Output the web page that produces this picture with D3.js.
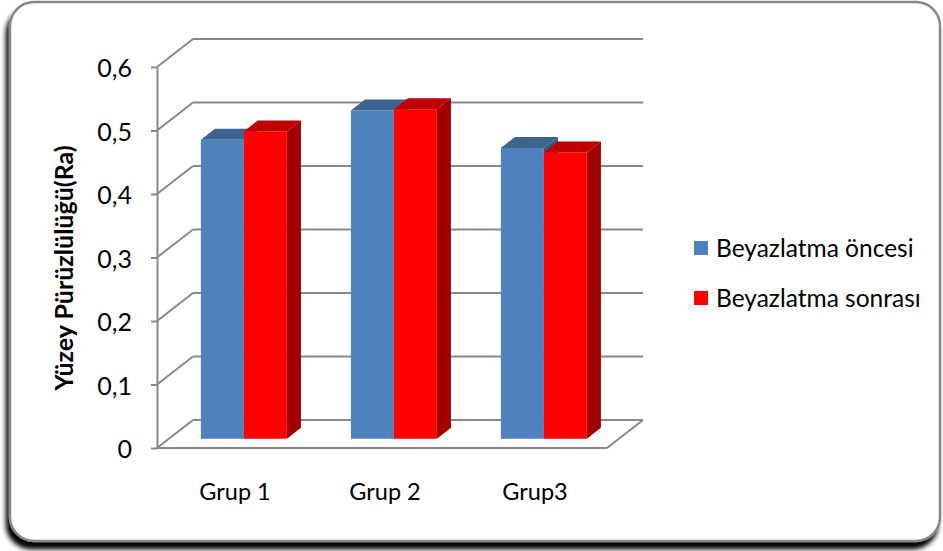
<!DOCTYPE html>
<html>
<head>
<meta charset="utf-8">
<script src="https://cdn.jsdelivr.net/npm/d3@7"></script>
<style>
  html, body { margin: 0; padding: 0; background: #ffffff; }
  svg { display: block; }
  text { font-family: Lato, "Open Sans", sans-serif; fill: #000; }
</style>
</head>
<body>
<svg id="chart" width="943" height="551"></svg>
<script>
// Surface roughness (Ra) before and after bleaching, per group
const categories = ["Grup 1", "Grup 2", "Grup3"];
const seriesNames = ["Beyazlatma öncesi", "Beyazlatma sonrası"];
const valuesBefore = [0.471, 0.517, 0.458];
const valuesAfter = [0.484, 0.519, 0.451];
const yTickValues = [0, 0.1, 0.2, 0.3, 0.4, 0.5, 0.6];
const yTitle = "Yüzey Pürüzlülüğü(Ra)";

const series = [
  { name: seriesNames[0], values: valuesBefore, front: "#4f81bd", top: "#3c6491", side: "#36597f" },
  { name: seriesNames[1], values: valuesAfter, front: "#ff0000", top: "#c00000", side: "#a00000" }
];

const svg = d3.select("#chart");

// Rounded chart frame with a drop shadow
const defs = svg.append("defs");
const shadow = defs.append("filter").attr("id", "frameShadow")
  .attr("x", "-5%").attr("y", "-5%").attr("width", "110%").attr("height", "115%");
shadow.append("feDropShadow")
  .attr("dx", -3).attr("dy", 7).attr("stdDeviation", 2.5)
  .attr("flood-color", "#000").attr("flood-opacity", 1);

svg.append("rect")
  .attr("x", 10).attr("y", 2).attr("width", 930).attr("height", 539)
  .attr("rx", 24).attr("ry", 24)
  .attr("fill", "#fff").attr("stroke", "#878787").attr("stroke-width", 2.5)
  .attr("filter", "url(#frameShadow)");

// Front-plane scales and the oblique depth vector of the 3D box
const x = d3.scaleBand().domain(categories).range([157, 607]).paddingInner(0).paddingOuter(0);
const y = d3.scaleLinear().domain([0, 0.6]).range([448, 67]);
const depth = { dx: 36, dy: -28 };
const barDepth = [0.33, 0.72];   // bars sit between these fractions of the depth
const barWidth = 43;

const gridColor = "#888888";
const grid = svg.append("g").attr("stroke", gridColor).attr("stroke-width", 2).attr("fill", "none");

// Back wall gridlines
grid.selectAll("line.back").data(yTickValues).join("line")
  .attr("x1", x.range()[0] + depth.dx).attr("x2", x.range()[1] + depth.dx)
  .attr("y1", d => y(d) + depth.dy).attr("y2", d => y(d) + depth.dy);

// Side wall gridlines
grid.selectAll("line.side").data(yTickValues).join("line")
  .attr("x1", x.range()[0]).attr("x2", x.range()[0] + depth.dx)
  .attr("y1", d => y(d)).attr("y2", d => y(d) + depth.dy);

// Floor edges
grid.append("line")
  .attr("x1", x.range()[0]).attr("x2", x.range()[1])
  .attr("y1", y(0)).attr("y2", y(0));
grid.append("line")
  .attr("x1", x.range()[1]).attr("x2", x.range()[1] + depth.dx)
  .attr("y1", y(0)).attr("y2", y(0) + depth.dy);

// Value axis on the front-left edge
const fmt = d3.formatLocale({ decimal: ",", thousands: ".", grouping: [3], currency: ["", ""] }).format("~g");
const yAxis = svg.append("g")
  .attr("transform", `translate(${x.range()[0]},0)`)
  .call(d3.axisLeft(y).tickValues(yTickValues).tickFormat(fmt).tickSize(6).tickPadding(19).tickSizeOuter(0));
yAxis.select(".domain").attr("stroke", gridColor).attr("stroke-width", 2);
yAxis.selectAll(".tick line").attr("stroke", gridColor).attr("stroke-width", 2);
yAxis.selectAll(".tick text").attr("font-size", 25).attr("dy", "0.38em")
  .style("font-family", "Lato, 'Open Sans', sans-serif").attr("fill", "#000");

// 3D columns
const f0 = { dx: depth.dx * barDepth[0], dy: depth.dy * barDepth[0] };
const bd = { dx: depth.dx * (barDepth[1] - barDepth[0]), dy: depth.dy * (barDepth[1] - barDepth[0]) };
const bars = svg.append("g");

categories.forEach((cat, i) => {
  const center = x(cat) + x.bandwidth() / 2 + f0.dx;
  series.forEach((s, k) => {
    const x0 = center + (k - 1) * barWidth;
    const x1 = x0 + barWidth;
    const yb = y(0) + f0.dy;
    const yt = y(s.values[i]) + f0.dy;
    const g = bars.append("g");
    // right side face
    g.append("path").attr("fill", s.side)
      .attr("d", `M${x1},${yt}L${x1 + bd.dx},${yt + bd.dy}L${x1 + bd.dx},${yb + bd.dy}L${x1},${yb}Z`);
    // top face
    g.append("path").attr("fill", s.top)
      .attr("d", `M${x0},${yt}L${x1},${yt}L${x1 + bd.dx},${yt + bd.dy}L${x0 + bd.dx},${yt + bd.dy}Z`);
    // front face
    g.append("rect").attr("fill", s.front)
      .attr("x", x0).attr("y", yt).attr("width", barWidth).attr("height", yb - yt);
  });
});

// Category labels
svg.append("g").selectAll("text").data(categories).join("text")
  .attr("x", d => x(d) + x.bandwidth() / 2 + 3)
  .attr("y", 500)
  .attr("text-anchor", "middle")
  .attr("font-size", 23.5)
  .text(d => d);

// Axis title
svg.append("text")
  .attr("transform", "translate(73,268) rotate(-90)")
  .attr("text-anchor", "middle")
  .attr("font-size", 25)
  .attr("font-weight", "bold")
  .text(yTitle);

// Legend
const legend = svg.append("g").attr("transform", "translate(694,241)");
const item = legend.selectAll("g").data(series).join("g")
  .attr("transform", (d, i) => `translate(0,${i * 50})`);
item.append("rect").attr("width", 14).attr("height", 14).attr("fill", d => d.front);
item.append("text").attr("x", 22).attr("y", 16).attr("font-size", 24.5).text(d => d.name);
</script>
</body>
</html>
